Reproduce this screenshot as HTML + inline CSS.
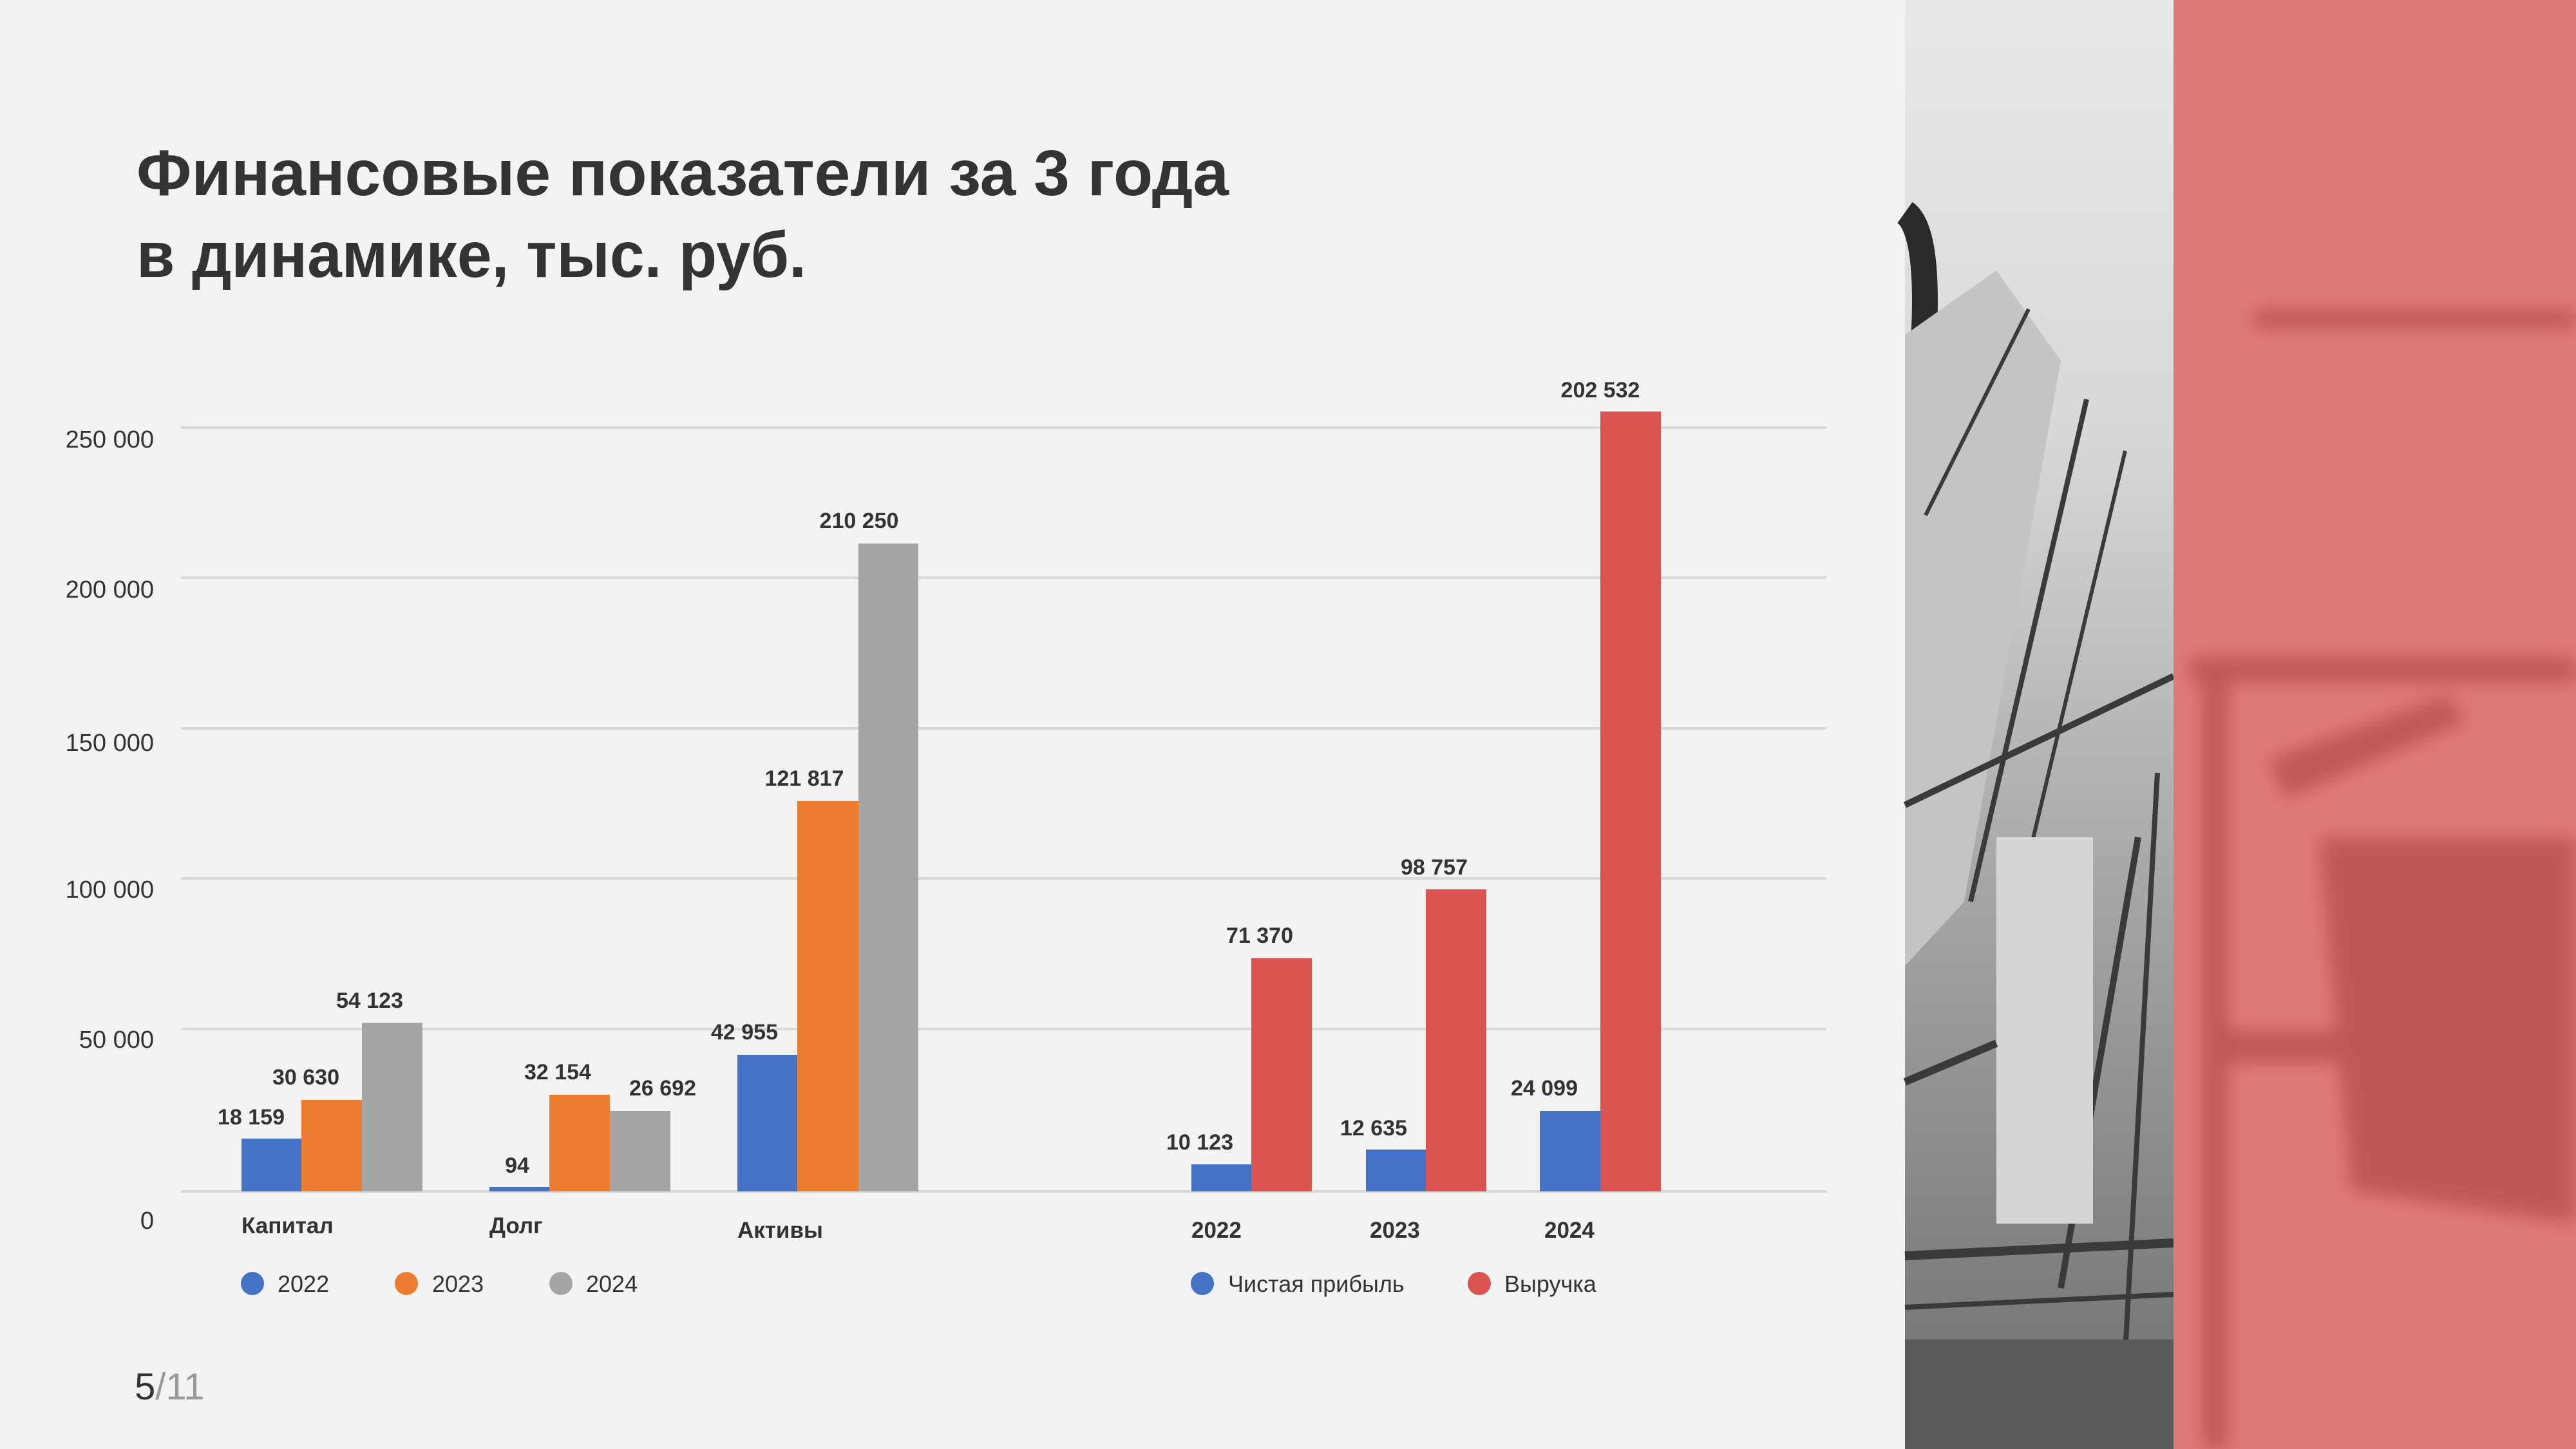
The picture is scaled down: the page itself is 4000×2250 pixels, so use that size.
<!DOCTYPE html>
<html><head><meta charset="utf-8"><style>
html,body{margin:0;padding:0;background:#f3f3f3;}
svg{display:block;}
</style></head><body>
<svg width="4000" height="2250" viewBox="0 0 4000 2250" xmlns="http://www.w3.org/2000/svg" font-family="Liberation Sans, sans-serif">
<defs>
<linearGradient id="sky" x1="0" y1="0" x2="0" y2="1">
<stop offset="0" stop-color="#e9e9e9"/><stop offset="0.3" stop-color="#d8d8d8"/><stop offset="0.6" stop-color="#a8a8a8"/><stop offset="1" stop-color="#6e6e6e"/>
</linearGradient>
<filter id="bl"><feGaussianBlur stdDeviation="14"/></filter>
</defs>
<rect width="4000" height="2250" fill="#f3f3f3"/>
<!-- photo -->
<rect x="2958" y="0" width="417" height="2250" fill="url(#sky)"/>
<g stroke="#3a3a3a" fill="none">
<path d="M2958 330 Q3000 360 2985 560" stroke-width="40" stroke="#2a2a2a"/>
<polygon points="2958,520 3100,420 3200,560 3050,1400 2958,1500" fill="#c4c4c4" stroke="none"/>
<line x1="2990" y1="800" x2="3150" y2="480" stroke-width="6"/>
<line x1="3060" y1="1400" x2="3240" y2="620" stroke-width="8"/>
<line x1="3110" y1="1500" x2="3300" y2="700" stroke-width="6"/>
<line x1="2958" y1="1250" x2="3375" y2="1050" stroke-width="10"/>
<line x1="3200" y1="2000" x2="3320" y2="1300" stroke-width="10"/>
<line x1="3300" y1="2100" x2="3350" y2="1200" stroke-width="8"/>
<rect x="3100" y="1300" width="150" height="600" fill="#d6d6d6" stroke="none"/>
<line x1="2958" y1="1950" x2="3375" y2="1930" stroke-width="14"/>
<line x1="2958" y1="2030" x2="3375" y2="2010" stroke-width="8"/>
<line x1="2958" y1="1680" x2="3100" y2="1620" stroke-width="12"/>
</g>
<rect x="2958" y="2080" width="417" height="170" fill="#5a5a5a"/>
<!-- red panel -->
<rect x="3375" y="0" width="625" height="2250" fill="#df7b77"/>
<g filter="url(#bl)" fill="#b8504d" opacity="0.8">
<rect x="3500" y="480" width="500" height="30"/>
<rect x="3400" y="1020" width="600" height="40"/>
<rect x="3430" y="1600" width="570" height="50"/>
<rect x="3420" y="1050" width="40" height="1200"/>
<polygon points="3600,1300 4000,1300 4000,1900 3650,1850"/>
<polygon points="3520,1180 3800,1080 3830,1120 3550,1240"/>
</g>
<!-- title -->
<g fill="#333" font-weight="bold" font-size="100">
<text x="212" y="303" textLength="1696" lengthAdjust="spacingAndGlyphs">Финансовые показатели за 3 года</text>
<text x="212" y="430" textLength="1040" lengthAdjust="spacingAndGlyphs">в динамике, тыс. руб.</text>
</g>
<!-- gridlines -->
<g stroke="#d9d9d9" stroke-width="4">
<line x1="281" y1="664" x2="2836" y2="664"/>
<line x1="281" y1="897" x2="2836" y2="897"/>
<line x1="281" y1="1131" x2="2836" y2="1131"/>
<line x1="281" y1="1364" x2="2836" y2="1364"/>
<line x1="281" y1="1598" x2="2836" y2="1598"/>
<line x1="281" y1="1850" x2="2836" y2="1850"/>
</g>
<!-- y labels -->
<g fill="#333" font-size="38" text-anchor="end">
<text x="239" y="695">250 000</text>
<text x="239" y="928">200 000</text>
<text x="239" y="1166">150 000</text>
<text x="239" y="1394">100 000</text>
<text x="239" y="1627">50 000</text>
<text x="239" y="1908">0</text>
</g>
<!-- left bars -->
<rect x="375" y="1768" width="93" height="82" fill="#4472c4"/>
<rect x="468" y="1708" width="94" height="142" fill="#ed7d31"/>
<rect x="562" y="1588" width="94" height="262" fill="#a5a5a5"/>
<rect x="760" y="1843" width="93" height="7" fill="#4472c4"/>
<rect x="853" y="1700" width="94" height="150" fill="#ed7d31"/>
<rect x="947" y="1725" width="94" height="125" fill="#a5a5a5"/>
<rect x="1145" y="1638" width="93" height="212" fill="#4472c4"/>
<rect x="1238" y="1244" width="95" height="606" fill="#ed7d31"/>
<rect x="1333" y="844" width="93" height="1006" fill="#a5a5a5"/>
<!-- right bars -->
<rect x="1850" y="1808" width="93" height="42" fill="#4472c4"/>
<rect x="1943" y="1488" width="94" height="362" fill="#d95350"/>
<rect x="2121" y="1785" width="93" height="65" fill="#4472c4"/>
<rect x="2214" y="1381" width="94" height="469" fill="#d95350"/>
<rect x="2391" y="1725" width="94" height="125" fill="#4472c4"/>
<rect x="2485" y="639" width="94" height="1211" fill="#d95350"/>
<!-- data labels -->
<g fill="#333" font-size="34" font-weight="bold" text-anchor="middle">
<text x="390" y="1746">18 159</text>
<text x="475" y="1684">30 630</text>
<text x="574" y="1565">54 123</text>
<text x="803" y="1821">94</text>
<text x="866" y="1676">32 154</text>
<text x="1029" y="1701">26 692</text>
<text x="1156" y="1614">42 955</text>
<text x="1249" y="1220">121 817</text>
<text x="1334" y="820">210 250</text>
<text x="1863" y="1785">10 123</text>
<text x="1956" y="1464">71 370</text>
<text x="2133" y="1763">12 635</text>
<text x="2227" y="1358">98 757</text>
<text x="2398" y="1701">24 099</text>
<text x="2485" y="617">202 532</text>
</g>
<!-- category labels -->
<g fill="#333" font-size="35" font-weight="bold">
<text x="375" y="1915">Капитал</text>
<text x="760" y="1915">Долг</text>
<text x="1145" y="1922">Активы</text>
<text x="1850" y="1922">2022</text>
<text x="2127" y="1922">2023</text>
<text x="2398" y="1922">2024</text>
</g>
<!-- legends -->
<circle cx="392" cy="1993" r="18" fill="#4472c4"/>
<circle cx="631" cy="1993" r="18" fill="#ed7d31"/>
<circle cx="871" cy="1993" r="18" fill="#a5a5a5"/>
<circle cx="1867" cy="1993" r="18" fill="#4472c4"/>
<circle cx="2297" cy="1993" r="18" fill="#d95350"/>
<g fill="#333" font-size="36">
<text x="431" y="2006">2022</text>
<text x="671" y="2006">2023</text>
<text x="910" y="2006">2024</text>
<text x="1907" y="2006">Чистая прибыль</text>
<text x="2336" y="2006">Выручка</text>
</g>
<!-- page number -->
<text x="209" y="2173" font-size="58"><tspan fill="#333">5</tspan><tspan fill="#999">/11</tspan></text>
</svg>
</body></html>
